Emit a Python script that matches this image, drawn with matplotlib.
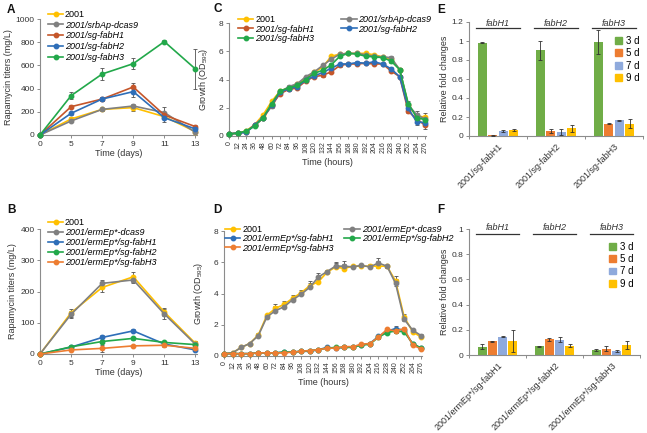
import numpy as np
import matplotlib
matplotlib.use("Agg")
import matplotlib.pyplot as plt
from matplotlib.patches import Patch

plt.rcParams['font.family'] = ['Liberation Sans', 'DejaVu Sans']
plt.rcParams['mathtext.fontset'] = 'custom'
plt.rcParams['mathtext.rm'] = 'Liberation Sans'
plt.rcParams['mathtext.it'] = 'Liberation Sans:italic'

# ---------------- data ----------------
days = [0, 5, 7, 9, 11, 13]
hours = list(range(0, 277, 12))

# panel A  (mg/L)
a_labels = ['2001', '2001/srbAp-dcas9', '2001/sg-fabH1', '2001/sg-fabH2', '2001/sg-fabH3']
a_2001 = [0, 138, 221, 236, 158, 29]
a_dcas9 = [0, 121, 221, 250, 193, 23]
a_fabH1 = [0, 244, 310, 414, 172, 72]
a_fabH2 = [0, 187, 310, 374, 149, 52]
a_fabH3 = [0, 339, 526, 615, 805, 569]
a_err_2001 = [0, 15, 10, 25, 20, 10]
a_err_dcas9 = [0, 10, 10, 20, 50, 10]
a_err_fabH1 = [0, 15, 15, 35, 20, 15]
a_err_fabH2 = [0, 15, 15, 45, 40, 10]
a_err_fabH3 = [0, 30, 55, 45, 15, 172]

# panel B  (mg/L)
b_labels = ['2001', '2001/ermEp*-dcas9', '2001/ermEp*/sg-fabH1',
            '2001/ermEp*/sg-fabH2', '2001/ermEp*/sg-fabH3']
b_2001 = [0, 132, 213, 247, 134, 34]
b_dcas9 = [0, 127, 226, 237, 128, 31]
b_fabH1 = [0, 22, 53, 74, 32, 13]
b_fabH2 = [0, 23, 40, 50, 37, 30]
b_fabH3 = [0, 13, 18, 26, 28, 18]
b_err_2001 = [0, 12, 15, 15, 12, 8]
b_err_dcas9 = [0, 12, 12, 10, 15, 12]
b_err_fabH1 = [0, 4, 8, 5, 5, 4]
b_err_fabH2 = [0, 5, 6, 5, 6, 4]
b_err_fabH3 = [0, 3, 10, 4, 4, 3]

# panel C  (OD595)
c_2001 = [0.15, 0.2, 0.35, 0.8, 1.5, 2.45, 3.2, 3.4, 3.65, 4.1, 4.5, 4.9,
          5.65, 5.8, 5.85, 5.85, 5.85, 5.75, 5.6, 5.45, 4.7, 2.2, 1.4, 1.35]
c_dcas9 = [0.15, 0.2, 0.3, 0.8, 1.3, 2.1, 3.1, 3.5, 3.7, 4.2, 4.55, 5.0,
           5.45, 5.8, 5.85, 5.85, 5.75, 5.65, 5.6, 5.55, 4.7, 2.2, 1.5, 1.2]
c_fabH1 = [0.15, 0.2, 0.3, 0.75, 1.25, 2.2, 3.0, 3.3, 3.4, 3.9, 4.2, 4.3,
           4.55, 5.0, 5.1, 5.1, 5.15, 5.1, 5.1, 4.6, 4.2, 1.75, 1.2, 0.75]
c_fabH2 = [0.15, 0.2, 0.25, 0.75, 1.3, 2.2, 3.1, 3.35, 3.5, 3.95, 4.25, 4.5,
           4.8, 5.1, 5.1, 5.2, 5.15, 5.25, 5.1, 4.75, 4.2, 1.95, 1.0, 0.95]
c_fabH3 = [0.15, 0.2, 0.35, 0.7, 1.3, 2.3, 3.2, 3.4, 3.6, 4.0, 4.45, 4.65,
           5.05, 5.65, 5.85, 5.8, 5.65, 5.6, 5.55, 5.3, 4.7, 2.3, 1.3, 1.15]
c_err = [0.03, 0.03, 0.05, 0.05, 0.08, 0.1, 0.08, 0.08, 0.08, 0.08, 0.08, 0.1,
         0.1, 0.08, 0.08, 0.08, 0.08, 0.08, 0.08, 0.1, 0.1, 0.15, 0.25, 0.25]

# panel D  (OD595)
d_2001 = [0.15, 0.2, 0.55, 0.8, 1.35, 2.6, 3.05, 3.3, 3.7, 4.05, 4.5, 4.75,
          5.35, 5.7, 5.6, 5.75, 5.75, 5.75, 5.75, 5.75, 4.8, 2.5, 1.55, 1.2]
d_dcas9 = [0.15, 0.2, 0.55, 0.8, 1.3, 2.5, 2.9, 3.15, 3.6, 3.95, 4.4, 5.05,
           5.4, 5.75, 5.75, 5.7, 5.8, 5.7, 5.95, 5.75, 4.65, 2.35, 1.65, 1.3]
d_fabH1 = [0.15, 0.15, 0.15, 0.15, 0.2, 0.2, 0.2, 0.25, 0.25, 0.3, 0.3, 0.4,
           0.55, 0.5, 0.55, 0.6, 0.7, 0.8, 1.25, 1.6, 1.75, 1.65, 0.75, 0.5]
d_fabH2 = [0.15, 0.15, 0.15, 0.15, 0.2, 0.2, 0.2, 0.25, 0.25, 0.3, 0.35, 0.4,
           0.5, 0.55, 0.55, 0.55, 0.7, 0.75, 1.2, 1.5, 1.6, 1.55, 0.8, 0.5]
d_fabH3 = [0.15, 0.15, 0.15, 0.15, 0.2, 0.2, 0.2, 0.2, 0.25, 0.3, 0.35, 0.4,
           0.5, 0.5, 0.6, 0.6, 0.75, 0.8, 1.2, 1.7, 1.6, 1.75, 0.7, 0.45]
d_err_top = [0.03, 0.05, 0.05, 0.05, 0.1, 0.1, 0.3, 0.25, 0.2, 0.15, 0.3, 0.25,
             0.1, 0.25, 0.3, 0.1, 0.1, 0.15, 0.35, 0.1, 0.3, 0.2, 0.1, 0.1]
d_err_low = [0.02, 0.02, 0.02, 0.02, 0.03, 0.03, 0.03, 0.03, 0.03, 0.03, 0.05, 0.05,
             0.05, 0.05, 0.05, 0.05, 0.05, 0.05, 0.1, 0.1, 0.15, 0.1, 0.05, 0.05]

# panels E / F  (relative fold change)
genes = ['fabH1', 'fabH2', 'fabH3']
days_bar = ['3 d', '5 d', '7 d', '9 d']
e_ticklabels = ['2001/sg-fabH1', '2001/sg-fabH2', '2001/sg-fabH3']
e_vals = [[0.98, 0.905, 0.99], [0.01, 0.055, 0.13], [0.05, 0.04, 0.165], [0.065, 0.08, 0.13]]
e_errs = [[0.005, 0.1, 0.125], [0.005, 0.02, 0.003], [0.01, 0.03, 0.003], [0.01, 0.04, 0.05]]
f_ticklabels = ['2001/ermEp*/sg-fabH1', '2001/ermEp*/sg-fabH2', '2001/ermEp*/sg-fabH3']
f_vals = [[0.065, 0.07, 0.04], [0.11, 0.125, 0.05], [0.145, 0.12, 0.03], [0.11, 0.075, 0.08]]
f_errs = [[0.02, 0.003, 0.006], [0.003, 0.012, 0.02], [0.003, 0.02, 0.008], [0.09, 0.012, 0.03]]

# ---------------- style ----------------
YEL = '#FFC000'
GRY = '#808080'
RED = '#C5562A'
BLU = '#2E6EB8'
GRN = '#22A84A'
ORG = '#ED7D31'
bar_cols = ['#70AD47', '#ED7D31', '#8FAADC', '#FFC000']
SPINE = '#8c8c8c'
TXT = '#333333'
ERRC = '#505050'
FS = 6.5
TFS = 6

fig = plt.figure(figsize=(6.47, 4.33), dpi=100)

def px_axes(l, t, r, b):
    W, H = 647.0, 433.0
    return fig.add_axes([l / W, 1 - b / H, (r - l) / W, (b - t) / H])

def style(ax):
    for s in ['top', 'right']:
        ax.spines[s].set_visible(False)
    for s in ['left', 'bottom']:
        ax.spines[s].set_color(SPINE)
        ax.spines[s].set_linewidth(0.8)
    ax.tick_params(direction='out', length=2.5, width=0.7, color=SPINE,
                   labelsize=TFS, labelcolor=TXT, pad=1.5)

def lines(ax, x, series, errs, cols):
    hs = []
    for y, e, c in zip(series, errs, cols):
        ax.errorbar(x, y, yerr=e, fmt='none', ecolor=ERRC, elinewidth=0.6,
                    capsize=1.3, capthick=0.6, zorder=2, clip_on=False)
        h, = ax.plot(x, y, '-o', color=c, lw=1.2, ms=3.2, mec=c, zorder=3, clip_on=False)
        hs.append(h)
    return hs

def italic_legend(leg):
    for t in leg.get_texts():
        if t.get_text() != '2001':
            t.set_fontstyle('italic')

# ---------------- A ----------------
axA = px_axes(40, 19, 197, 135)
style(axA)
posd = np.arange(len(days))
hA = lines(axA, posd, [a_2001, a_dcas9, a_fabH1, a_fabH2, a_fabH3],
           [a_err_2001, a_err_dcas9, a_err_fabH1, a_err_fabH2, a_err_fabH3],
           [YEL, GRY, RED, BLU, GRN])
axA.set_xlim(0, 5.05)
axA.set_ylim(0, 1000)
axA.set_yticks(range(0, 1001, 200))
axA.set_xticks(posd)
axA.set_xticklabels([str(d) for d in days])
axA.set_xlabel('Time (days)', fontsize=FS, color=TXT, labelpad=1)
axA.set_ylabel('Rapamycin titers (mg/L)', fontsize=FS, color=TXT, labelpad=2)
leg = axA.legend(hA, a_labels, loc='upper left', bbox_to_anchor=(0.05, 1.08),
                 frameon=False, fontsize=FS, borderpad=0, borderaxespad=0,
                 handlelength=1.7, handletextpad=0.2, labelspacing=0.2)
italic_legend(leg)

# ---------------- B ----------------
axB = px_axes(40, 229, 197, 354)
style(axB)
hB = lines(axB, posd, [b_2001, b_dcas9, b_fabH1, b_fabH2, b_fabH3],
           [b_err_2001, b_err_dcas9, b_err_fabH1, b_err_fabH2, b_err_fabH3],
           [YEL, GRY, BLU, GRN, ORG])
axB.set_xlim(0, 5.05)
axB.set_ylim(0, 400)
axB.set_yticks(range(0, 401, 100))
axB.set_xticks(posd)
axB.set_xticklabels([str(d) for d in days])
axB.set_xlabel('Time (days)', fontsize=FS, color=TXT, labelpad=1)
axB.set_ylabel('Rapamycin titers (mg/L)', fontsize=FS, color=TXT, labelpad=2)
leg = axB.legend(hB, b_labels, loc='upper left', bbox_to_anchor=(0.05, 1.09),
                 frameon=False, fontsize=FS, borderpad=0, borderaxespad=0,
                 handlelength=1.7, handletextpad=0.2, labelspacing=0.12)
italic_legend(leg)

# ---------------- C ----------------
axC = px_axes(229, 23, 426, 136)
style(axC)
hC = lines(axC, hours, [c_2001, c_dcas9, c_fabH1, c_fabH2, c_fabH3],
           [c_err] * 5, [YEL, GRY, RED, BLU, GRN])
axC.set_xlim(0, 277)
axC.set_ylim(0, 8)
axC.set_yticks(range(0, 9, 2))
axC.set_xticks(hours)
axC.set_xticklabels([str(h) for h in hours], rotation=90, fontsize=5)
axC.set_xlabel('Time (hours)', fontsize=FS, color=TXT, labelpad=3)
axC.set_ylabel('Growth (OD$_{595}$)', fontsize=FS, color=TXT, labelpad=6)
order = [0, 2, 4, 1, 3]
leg = axC.legend([hC[i] for i in order], [a_labels[i] for i in order], ncol=2,
                 loc='upper left', bbox_to_anchor=(0.046, 1.07), frameon=False,
                 fontsize=FS, borderpad=0, borderaxespad=0, handlelength=1.7,
                 handletextpad=0.2, labelspacing=0.05, columnspacing=3.0)
italic_legend(leg)

# ---------------- D ----------------
axD = px_axes(224, 231, 422, 356)
style(axD)
hD = lines(axD, hours, [d_2001, d_dcas9, d_fabH1, d_fabH2, d_fabH3],
           [[d_err_low, d_err_top], [d_err_low, d_err_top], d_err_low, d_err_low, d_err_low],
           [YEL, GRY, BLU, GRN, ORG])
axD.set_xlim(0, 277)
axD.set_ylim(0, 8)
axD.set_yticks(range(0, 9, 2))
axD.set_xticks(hours)
axD.set_xticklabels([str(h) for h in hours], rotation=90, fontsize=5)
axD.set_xlabel('Time (hours)', fontsize=FS, color=TXT, labelpad=3)
axD.set_ylabel('Growth (OD$_{595}$)', fontsize=FS, color=TXT, labelpad=6)
leg = axD.legend([hD[i] for i in order], [b_labels[i] for i in order], ncol=2,
                 loc='upper left', bbox_to_anchor=(0.005, 1.05), frameon=False,
                 fontsize=FS, borderpad=0, borderaxespad=0, handlelength=1.7,
                 handletextpad=0.2, labelspacing=0.05, columnspacing=1.2)
italic_legend(leg)

# ---------------- E / F ----------------
def bars(ax, vals, errs, ticklabels, ymax, ystep, line_y, text_y, leg_anchor):
    style(ax)
    x = np.arange(len(genes))
    w = 0.16
    offs = [-0.27, -0.09, 0.09, 0.27]
    hs = []
    for v, e, c, o, lab in zip(vals, errs, bar_cols, offs, days_bar):
        ax.bar(x + o, v, width=w, color=c, zorder=2)
        ax.errorbar(x + o, v, yerr=e, fmt='none', ecolor='#303030', elinewidth=0.6,
                    capsize=1.3, capthick=0.6, zorder=3)
        hs.append(Patch(color=c, label=lab))
    ax.set_xlim(-0.5, 2.5)
    ax.set_ylim(0, ymax)
    ax.set_yticks(np.arange(0, ymax + 1e-9, ystep))
    ax.set_yticklabels(['%g' % round(t, 1) for t in np.arange(0, ymax + 1e-9, ystep)])
    ax.set_xticks([-0.5, 0.5, 1.5, 2.5])
    ax.set_xticklabels([])
    ax.set_xticks(x, minor=True)
    ax.set_xticklabels(ticklabels, minor=True, rotation=45, ha='right',
                       rotation_mode='anchor', fontsize=FS, color=TXT)
    ax.tick_params(axis='x', which='minor', length=0, pad=4)
    ax.set_ylabel('Relative fold changes', fontsize=FS, color=TXT, labelpad=2)
    for i, g in enumerate(genes):
        ax.plot([i - 0.38, i + 0.38], [line_y, line_y], color='#333333', lw=0.9,
                clip_on=False)
        ax.text(i, text_y, g, ha='center', va='center', fontsize=FS,
                fontstyle='italic', color=TXT, clip_on=False)
    ax.legend(handles=hs, loc='upper left', bbox_to_anchor=leg_anchor, frameon=False,
              fontsize=FS + 0.5, borderpad=0, borderaxespad=0, handlelength=0.7,
              handleheight=0.7, handletextpad=0.4, labelspacing=0.25)

axE = px_axes(469, 22, 643, 136)
bars(axE, e_vals, e_errs, e_ticklabels, 1.2, 0.2, 1.135, 1.185, (0.84, 0.88))
axF = px_axes(469, 229, 640, 355)
bars(axF, f_vals, f_errs, f_ticklabels, 1.0, 0.2, 0.96, 1.01, (0.82, 0.9))

# panel letters
for lab, x, y in [('A', 7, 10), ('B', 7, 210), ('C', 213, 9), ('D', 213, 210),
                  ('E', 437, 10), ('F', 437, 210)]:
    fig.text(x / 647, 1 - y / 433, lab, fontsize=8.5, fontweight='bold',
             ha='left', va='center', color='#111111')

fig.savefig('out.png', dpi=100)
